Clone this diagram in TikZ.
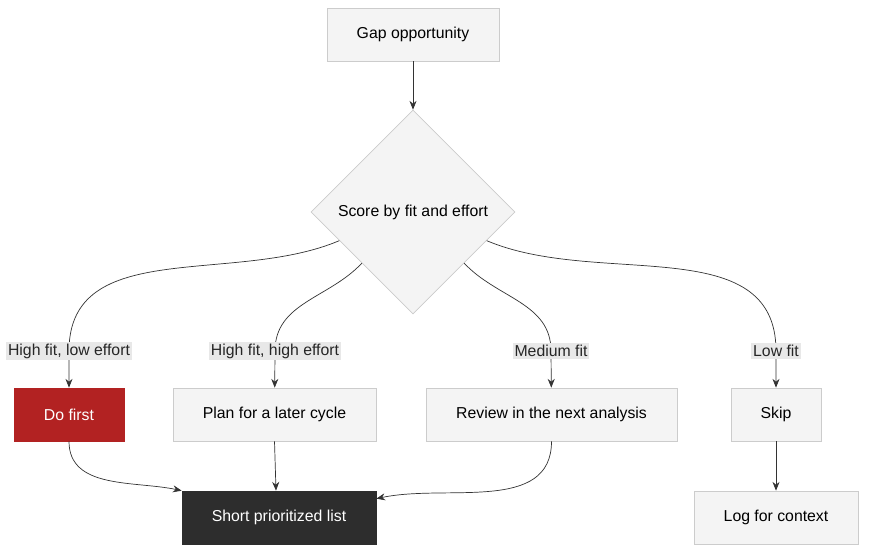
\documentclass[tikz,border=0pt]{standalone}
\usepackage{fontspec}
\setmainfont{Liberation Sans}
\usetikzlibrary{shapes.geometric,calc,arrows.meta}
\definecolor{boxfill}{HTML}{F4F4F4}
\definecolor{boxline}{HTML}{CCCCCC}
\definecolor{linkgray}{HTML}{333333}
\definecolor{labelfill}{HTML}{E8E8E8}
\definecolor{dofirst}{HTML}{B22222}
\definecolor{darkbox}{HTML}{2D2D2D}
\begin{document}
\begin{tikzpicture}[x=0.02cm,y=-0.02cm,
  font=\fontsize{9}{11}\selectfont,
  box/.style={rectangle, draw=boxline, fill=boxfill, minimum height=1.06cm, inner sep=0pt},
  decide/.style={diamond, draw=boxline, fill=boxfill, minimum width=4.08cm, minimum height=4.08cm, inner sep=0pt},
  tag/.style={fill=labelfill, inner sep=1pt, text=black!85},
  link/.style={draw=linkgray, -{Stealth[length=5pt,width=4pt]}}]
  \useasboundingbox (0,0) rectangle (874,558);

  \node (gap) [box, minimum width=3.44cm] at (413,34.5) {Gap opportunity};
  \node (score) [decide] at (413,212) {Score by fit and effort};

  \node (first) [box, minimum width=2.2cm, fill=dofirst, draw=dofirst, text=white] at (69,414.5) {Do first};
  \node (later) [box, minimum width=4.06cm] at (274.5,414.5) {Plan for a later cycle};
  \node (review) [box, minimum width=5.02cm] at (551.5,414.5) {Review in the next analysis};
  \node (skip) [box, minimum width=1.8cm] at (776,414.5) {Skip};
  \node (short) [box, minimum width=3.88cm, fill=darkbox, draw=darkbox, text=white] at (279,517.5) {Short prioritized list};
  \node (log) [box, minimum width=3.28cm] at (776,517.5) {Log for context};

  \coordinate (c1) at (69,351);
  \coordinate (c2) at (275,351);
  \coordinate (c3) at (551,351);
  \coordinate (c4) at (776,351);

  \draw[link] (gap) -- (score);
  \draw[link] ($(score.west)!0.28!(score.south)$) to[out=-157,in=90] (c1) -- (first);
  \draw[link] (score.south west) to[out=-133,in=90] (c2) -- (later);
  \draw[link] (score.south east) to[out=-47,in=90] (c3) -- (review);
  \draw[link] ($(score.east)!0.28!(score.south)$) to[out=-23,in=90] (c4) -- (skip);

  \node (l1) [tag] at (c1) {High fit, low effort};
  \node (l2) [tag] at (c2) {High fit, high effort};
  \node (l3) [tag] at (c3) {Medium fit};
  \node (l4) [tag] at (c4) {Low fit};

  \draw[link] (first.south) to[out=-90,in=168] (short.north west);
  \draw[link] (later.south) -- ($(short.north)+(-3,0)$);
  \draw[link] (review.south) to[out=-90,in=12] ($(short.north east)+(0,8)$);
  \draw[link] (skip) -- (log);
\end{tikzpicture}
\end{document}
